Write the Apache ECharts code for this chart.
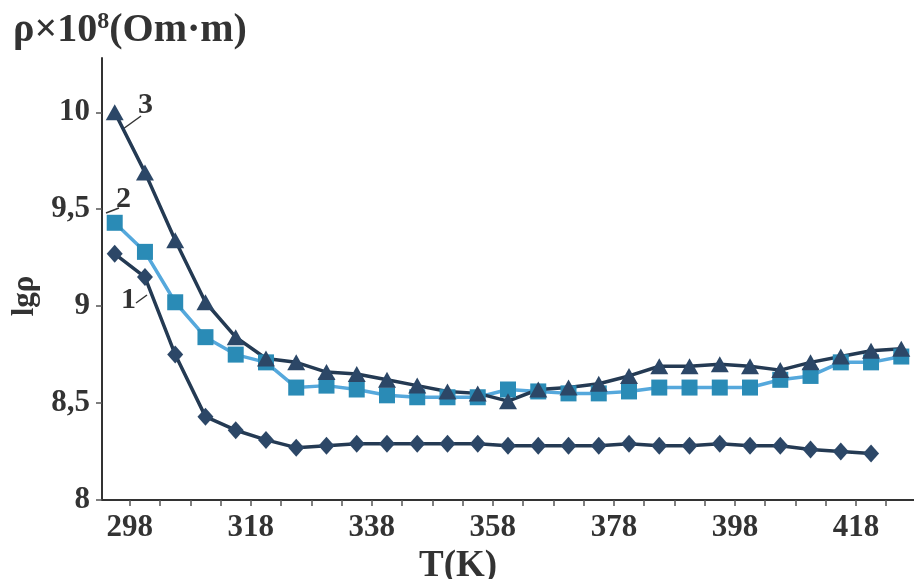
<!DOCTYPE html>
<html>
<head>
<meta charset="utf-8">
<script src="https://cdn.jsdelivr.net/npm/echarts@6/dist/echarts.min.js"></script>
<style>
	html, body { margin: 0; padding: 0; background: #fff; }
	#chart { width: 914px; height: 579px; }
</style>
</head>
<body>
<div id="chart"></div>
<script>
// temperatures of the measured points (K)
var temps = [295.5, 300.5, 305.5, 310.5, 315.5, 320.5, 325.5, 330.5, 335.5, 340.5,
	345.5, 350.5, 355.5, 360.5, 365.5, 370.5, 375.5, 380.5, 385.5, 390.5,
	395.5, 400.5, 405.5, 410.5, 415.5, 420.5, 425.5];

// lg(rho) for the three samples
var curve1 = [9.27, 9.15, 8.75, 8.43, 8.36, 8.31, 8.27, 8.28, 8.29, 8.29,
	8.29, 8.29, 8.29, 8.28, 8.28, 8.28, 8.28, 8.29, 8.28, 8.28,
	8.29, 8.28, 8.28, 8.26, 8.25, 8.24];
var curve2 = [9.43, 9.28, 9.02, 8.84, 8.75, 8.71, 8.58, 8.59, 8.57, 8.54,
	8.53, 8.53, 8.53, 8.57, 8.56, 8.55, 8.55, 8.56, 8.58, 8.58,
	8.58, 8.58, 8.62, 8.64, 8.71, 8.71, 8.74];
var curve3 = [10.0, 9.69, 9.34, 9.02, 8.84, 8.73, 8.71, 8.66, 8.65, 8.62,
	8.59, 8.56, 8.55, 8.51, 8.57, 8.58, 8.60, 8.64, 8.69, 8.69,
	8.70, 8.69, 8.67, 8.71, 8.74, 8.77, 8.78];

var xLabels = [298, 318, 338, 358, 378, 398, 418];
var xTicks = [298, 303, 308, 313, 318, 323, 328, 333, 338, 343, 348, 353, 358,
	363, 368, 373, 378, 383, 388, 393, 398, 403, 408, 413, 418, 423];

function pairs(ys) {
	var out = [];
	for (var i = 0; i < ys.length; i++) out.push([temps[i], ys[i]]);
	return out;
}

var FONT = '"Liberation Serif", "Times New Roman", serif';
var dark = '#2c4767';

var myChart = echarts.init(document.getElementById('chart'));
var option = {
	animation: false,
	backgroundColor: '#fff',
	title: {
		text: 'ρ×10{s|8}(Om·m)',
		left: 8,
		top: 5,
		textStyle: {
			fontFamily: FONT, fontSize: 40, fontWeight: 'bold', color: '#333',
			rich: { s: { fontFamily: FONT, fontSize: 24, fontWeight: 'bold', color: '#333', verticalAlign: 'top', padding: [0, 0, 17, 0] } }
		}
	},
	grid: { left: 102, right: 0, top: 58, bottom: 79, outerBoundsMode: 'none', containLabel: false },
	xAxis: {
		type: 'value',
		min: 293.4,
		max: 427.6,
		name: 'T(K)',
		nameLocation: 'middle',
		nameGap: 33,
		nameTextStyle: { fontFamily: FONT, fontSize: 37, fontWeight: 'bold', color: '#333', padding: [0, 100, 0, 0] },
		axisLine: { lineStyle: { color: '#333', width: 2 } },
		axisTick: { show: true, length: 6, customValues: xTicks, lineStyle: { color: '#555', width: 1.5 } },
		axisLabel: { customValues: xLabels, margin: 12, fontFamily: FONT, fontSize: 31, fontWeight: 'bold', color: '#333' },
		splitLine: { show: false }
	},
	yAxis: {
		type: 'value',
		min: 8,
		max: 10.28,
		interval: 0.5,
		name: 'lgρ',
		nameLocation: 'middle',
		nameRotate: 90,
		nameGap: 60,
		nameTextStyle: { fontFamily: FONT, fontSize: 31, fontWeight: 'bold', color: '#333', padding: [0, 34, 0, 0] },
		axisLine: { show: true, lineStyle: { color: '#333', width: 2 } },
		axisTick: { show: true, length: 6, lineStyle: { color: '#555', width: 1.5 } },
		axisLabel: {
			showMaxLabel: false,
			margin: 12,
			fontFamily: FONT, fontSize: 31, fontWeight: 'bold', color: '#333',
			formatter: function (v) { return String(v).replace('.', ','); }
		},
		splitLine: { show: false }
	},
	series: [
		{
			name: '1', type: 'line', data: pairs(curve1),
			symbol: 'diamond', symbolSize: [16, 18],
			lineStyle: { color: '#243a53', width: 3.5 },
			itemStyle: { color: dark }
		},
		{
			name: '2', type: 'line', data: pairs(curve2),
			symbol: 'rect', symbolSize: 16,
			lineStyle: { color: '#55a8dc', width: 3.5 },
			itemStyle: { color: '#2a8bb6' }
		},
		{
			name: '3', type: 'line', data: pairs(curve3),
			symbol: 'triangle', symbolSize: [18, 16],
			lineStyle: { color: '#243a53', width: 3.5 },
			itemStyle: { color: dark }
		}
	],
	graphic: [
		{ type: 'text', left: 138, top: 90, style: { text: '3', font: 'bold 30px ' + FONT, fill: '#333' } },
		{ type: 'line', shape: { x1: 123, y1: 129, x2: 141, y2: 116 }, style: { stroke: '#333', lineWidth: 1.5 } },
		{ type: 'text', left: 116, top: 184, style: { text: '2', font: 'bold 30px ' + FONT, fill: '#333' } },
		{ type: 'line', shape: { x1: 106, y1: 213, x2: 119, y2: 208 }, style: { stroke: '#333', lineWidth: 1.5 } },
		{ type: 'text', left: 121, top: 285, style: { text: '1', font: 'bold 30px ' + FONT, fill: '#333' } },
		{ type: 'line', shape: { x1: 136, y1: 303, x2: 147, y2: 295 }, style: { stroke: '#333', lineWidth: 1.5 } }
	]
};
myChart.setOption(option);
</script>
</body>
</html>
